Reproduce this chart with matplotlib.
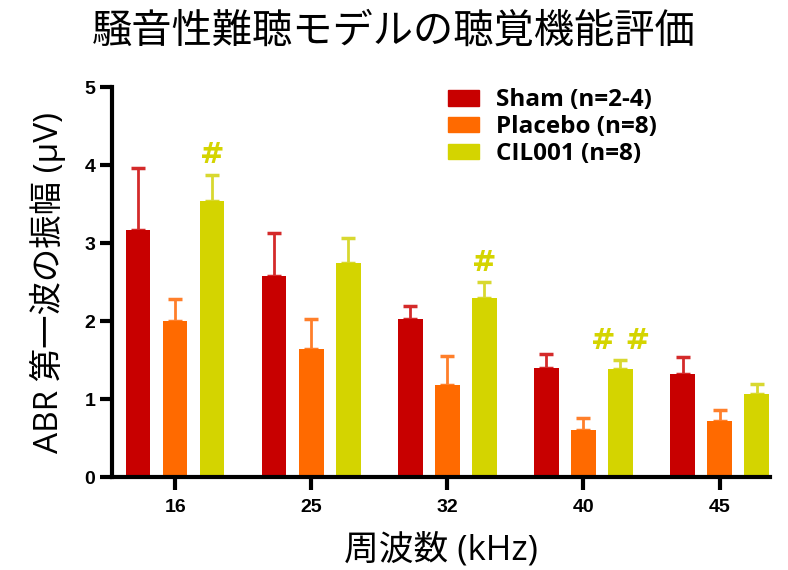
import numpy as np
import matplotlib.pyplot as plt
from matplotlib.patches import Patch

plt.rcParams['font.family'] = ['Open Sans', 'Noto Sans CJK JP', 'DejaVu Sans']

# data
freqs = ["16", "25", "32", "40", "45"]
groups = ["Sham (n=2-4)", "Placebo (n=8)", "CIL001 (n=8)"]
sham = [3.17, 2.58, 2.03, 1.40, 1.32]
sham_err = [0.79, 0.55, 0.17, 0.18, 0.22]
placebo = [2.00, 1.64, 1.18, 0.60, 0.72]
placebo_err = [0.29, 0.39, 0.37, 0.16, 0.14]
cil = [3.54, 2.74, 2.30, 1.38, 1.06]
cil_err = [0.34, 0.32, 0.20, 0.12, 0.14]
marks = ["#", "", "#", "# #", ""]

colors = ["#C80000", "#FF6A00", "#D4D400"]
err_colors = ["#D42A2A", "#FF7F2A", "#D8D830"]

fig = plt.figure(figsize=(7.88, 5.70), dpi=100)
ax = fig.add_axes([0.142, 0.163, 0.835, 0.684])

x = np.arange(len(freqs))
width = 0.18
offset = 0.272
series = [sham, placebo, cil]
errs = [sham_err, placebo_err, cil_err]
for i, (vals, e) in enumerate(zip(series, errs)):
    xs = x + (i - 1) * offset
    ax.bar(xs, vals, width, color=colors[i], zorder=2)
    ax.errorbar(xs, vals, yerr=[np.zeros(len(e)), e], fmt="none",
                ecolor=err_colors[i], elinewidth=2, capsize=5, capthick=2.5, zorder=1)

for i, m in enumerate(marks):
    if m:
        ax.text(x[i] + offset, cil[i] + cil_err[i] + 0.07, m, ha="center", va="bottom",
                color="#D4D400", fontsize=21, fontweight="bold", family="DejaVu Sans")

ax.set_xlim(-0.465, 4.37)
ax.set_ylim(0, 5)
ax.set_yticks([0, 1, 2, 3, 4, 5])
ax.set_xticks(x)
ax.set_xticklabels(freqs)
for lab in ax.get_xticklabels() + ax.get_yticklabels():
    lab.set_fontweight("bold")
    lab.set_fontsize(14)
    lab.set_family("Liberation Sans")
ax.tick_params(axis="both", width=3, length=9, direction="out")
ax.tick_params(axis="y", pad=3)
ax.tick_params(axis="x", pad=7)
for s in ["top", "right"]:
    ax.spines[s].set_visible(False)
for s in ["left", "bottom"]:
    ax.spines[s].set_linewidth(3)

ax.set_ylabel("ABR 第一波の振幅 (μV)", fontsize=24, labelpad=13)
ax.set_xlabel("周波数 (kHz)", fontsize=25, labelpad=12)
fig.suptitle("騒音性難聴モデルの聴覚機能評価", fontsize=29, y=0.978)

handles = [Patch(color=c) for c in colors]
leg = ax.legend(handles, groups, loc="upper left", bbox_to_anchor=(0.478, 1.053),
                frameon=False, handlelength=1.25, handleheight=0.6,
                handletextpad=0.7, labelspacing=0.12,
                prop={"family": "Open Sans", "weight": "bold", "size": 17.5})

fig.savefig("out.png", dpi=100)
